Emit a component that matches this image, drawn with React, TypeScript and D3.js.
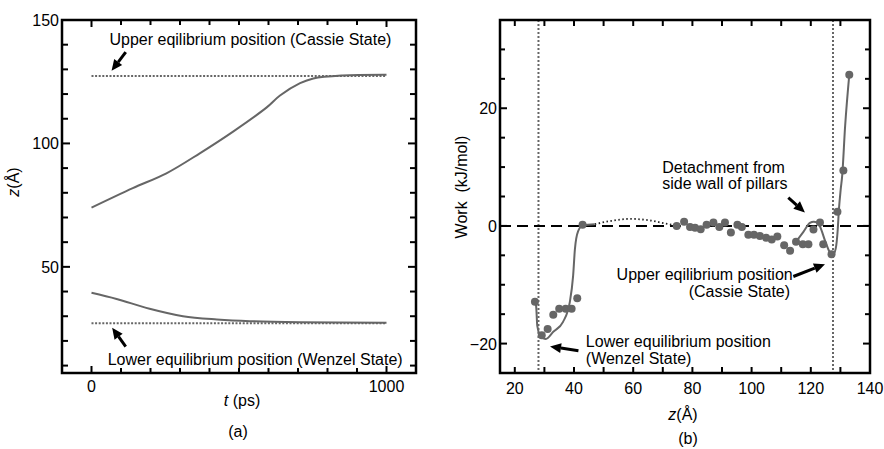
import * as d3 from 'd3';

// panel (a): z vs t
const upperT = [0, 140, 254, 367, 480, 594, 639, 707, 752, 850, 1000];
const upperZ = [74, 81.9, 87.9, 96, 104.8, 114.6, 119.4, 124.4, 126.3, 127.5, 127.8];
const lowerT = [0, 85, 197, 310, 425, 537, 707, 1000];
const lowerZ = [39.5, 37, 33, 30, 28.7, 28, 27.6, 27.4];
const eqUpperA = 127.3;
const eqLowerA = 27.2;
const tTicks = d3.range(0, 1001, 100);
const tLabels = [0, 1000];
const zTicksA = d3.range(10, 151, 10);
const zLabelsA = [50, 100, 150];

// panel (b): work vs z
const pointZ = [26.8, 29.1, 31.1, 33, 35, 37.2, 39.2, 41.1, 42.9,
  74.7, 77.2, 79.2, 80.9, 82.8, 84.8, 87.1, 89.1, 91, 93, 95.2, 96.7, 98.9, 100.8, 102.8,
  104.9, 106.8, 108.7, 111, 113, 115, 117.3, 119.2, 120.9, 123.1, 124.2, 127, 129, 131, 133];
const pointW = [-12.9, -18.6, -17.5, -15.1, -14.1, -14.1, -14.1, -12.3, 0.2,
  0, 0.7, -0.2, -0.3, -0.55, 0.2, 0.6, -0.2, 0.6, -1.1, 0.2, -0.2, -1.5, -1.5, -1.7,
  -2, -2.3, -1.8, -3.3, -4.2, -2.7, -3.1, -3.1, -0.6, 0.6, -3.1, -4.8, 2.4, 9.4, 25.7];
const fitLeftZ = [26.8, 27.2, 27.6, 28.5, 29.6, 30.5, 33, 36.3, 38.6, 39.7, 40.3, 41.4, 43, 47];
const fitLeftW = [-12.9, -13.6, -17, -18.6, -19.1, -19.2, -18, -16.3, -12.9, -8.5, -4, -0.9, 0.1, 0.3];
const gapZ = [47, 52, 59, 66, 71, 75];
const gapW = [0.3, 0.8, 1.2, 0.9, 0.4, 0.05];
const fitRightZ = [115, 117.5, 119.7, 121, 122, 123.1, 124.8, 126.5, 127.3, 128.4, 129.1, 129.5, 130.1, 130.6, 131.6, 133];
const fitRightW = [-2.7, -1, 0.5, 0.7, 0.6, -0.1, -2.5, -4.6, -5.1, -3.9, -0.6, 2.8, 6.2, 8.5, 17, 25.7];
const eqLowerB = 28;
const eqUpperB = 127.5;
const zTicksB = d3.range(20, 141, 10);
const zLabelsB = d3.range(20, 141, 20);
const wTicks = d3.range(-20, 31, 5);
const wLabels = [-20, 0, 20];

const FONT = "'Liberation Sans', Arial, Helvetica, sans-serif";
const GREY = '#666';

const Arrow = ({ x1, y1, x2, y2 }: { x1: number; y1: number; x2: number; y2: number }) => {
  const a = Math.atan2(y2 - y1, x2 - x1);
  const len = 11, hw = 5;
  const bx = x2 - len * Math.cos(a), by = y2 - len * Math.sin(a);
  const px = -Math.sin(a) * hw, py = Math.cos(a) * hw;
  return (
    <g>
      <line x1={x1} y1={y1} x2={bx} y2={by} stroke="#000" strokeWidth={3} />
      <polygon points={`${x2},${y2} ${bx + px},${by + py} ${bx - px},${by - py}`} fill="#000" />
    </g>
  );
};

const App = () => {
  // panel (a)
  const xA = d3.scaleLinear().domain([-100, 1100]).range([62, 416]);
  const yA = d3.scaleLinear().domain([7, 150]).range([373, 20]);
  const lineA = d3.line<[number, number]>()
    .x(d => xA(d[0]))
    .y(d => yA(d[1]))
    .curve(d3.curveCatmullRom.alpha(0.5));
  const upper = upperT.map((t, i) => [t, upperZ[i]] as [number, number]);
  const lower = lowerT.map((t, i) => [t, lowerZ[i]] as [number, number]);

  // panel (b)
  const xB = d3.scaleLinear().domain([15, 140]).range([500, 870]);
  const yB = d3.scaleLinear().domain([-25, 35]).range([373, 20]);
  const lineB = d3.line<[number, number]>()
    .x(d => xB(d[0]))
    .y(d => yB(d[1]))
    .curve(d3.curveMonotoneX);
  const fitLeft = fitLeftZ.map((z, i) => [z, fitLeftW[i]] as [number, number]);
  const gap = gapZ.map((z, i) => [z, gapW[i]] as [number, number]);
  const fitRight = fitRightZ.map((z, i) => [z, fitRightW[i]] as [number, number]);

  const [ax0, ax1] = xA.range();
  const [ayB, ayT] = yA.range();
  const [bx0, bx1] = xB.range();
  const [byB, byT] = yB.range();

  return (
    <svg width={884} height={449} style={{ position: 'absolute', left: 0, top: 0, background: '#fff' }}
      fontFamily={FONT} fontSize={16}>
      {/* ---------- (a) ---------- */}
      <line x1={xA(0)} x2={xA(1000)} y1={yA(eqUpperA)} y2={yA(eqUpperA)} stroke={GREY} strokeWidth={2} strokeDasharray="2,1.6" />
      <line x1={xA(0)} x2={xA(1000)} y1={yA(eqLowerA)} y2={yA(eqLowerA)} stroke={GREY} strokeWidth={2} strokeDasharray="2,1.6" />
      <path d={lineA(upper) ?? ''} fill="none" stroke={GREY} strokeWidth={2} />
      <path d={lineA(lower) ?? ''} fill="none" stroke={GREY} strokeWidth={2} />
      {tTicks.map(t => {
        const l = tLabels.includes(t) ? 7 : 5;
        return (
          <g key={'ta' + t}>
            <line x1={xA(t)} x2={xA(t)} y1={ayB} y2={ayB - l} stroke="#000" strokeWidth={2} />
            <line x1={xA(t)} x2={xA(t)} y1={ayT} y2={ayT + l} stroke="#000" strokeWidth={2} />
          </g>
        );
      })}
      {zTicksA.map(z => {
        const l = zLabelsA.includes(z) ? 8 : 6;
        return (
          <g key={'za' + z}>
            <line x1={ax0} x2={ax0 + l} y1={yA(z)} y2={yA(z)} stroke="#000" strokeWidth={2} />
            <line x1={ax1} x2={ax1 - l} y1={yA(z)} y2={yA(z)} stroke="#000" strokeWidth={2} />
          </g>
        );
      })}
      <rect x={ax0} y={ayT} width={ax1 - ax0} height={ayB - ayT} fill="none" stroke="#000" strokeWidth={2.5} />
      {tLabels.map(t => (
        <text key={'tl' + t} x={xA(t)} y={392} textAnchor="middle">{t}</text>
      ))}
      {zLabelsA.map(z => (
        <text key={'zl' + z} x={ax0 - 3} y={yA(z) + 6} textAnchor="end">{z}</text>
      ))}
      <text x={xA(61)} y={yA(140)}>Upper eqilibrium position (Cassie State)</text>
      <Arrow x1={xA(116)} y1={yA(137)} x2={xA(68)} y2={yA(129.4)} />
      <text x={xA(55)} y={yA(10.4)}>Lower equilibrium position (Wenzel State)</text>
      <Arrow x1={xA(116)} y1={yA(17.7)} x2={xA(70)} y2={yA(25.3)} />
      <text x={242} y={406} textAnchor="middle"><tspan fontStyle="italic">t</tspan> (ps)</text>
      <text x={238} y={437} textAnchor="middle">(a)</text>
      <text transform="translate(19,182) rotate(-90)" textAnchor="middle"><tspan fontStyle="italic">z</tspan>(Å)</text>

      {/* ---------- (b) ---------- */}
      <line x1={xB(eqLowerB)} x2={xB(eqLowerB)} y1={byT} y2={byB} stroke={GREY} strokeWidth={2} strokeDasharray="2,2" />
      <line x1={xB(eqUpperB)} x2={xB(eqUpperB)} y1={byT} y2={byB} stroke={GREY} strokeWidth={2} strokeDasharray="2,2" />
      <line x1={bx0} x2={bx1} y1={yB(0)} y2={yB(0)} stroke="#000" strokeWidth={2} strokeDasharray="11,6" />
      <path d={lineB(gap) ?? ''} fill="none" stroke="#222" strokeWidth={1.8} strokeDasharray="1.5,2.5" />
      <path d={lineB(fitLeft) ?? ''} fill="none" stroke={GREY} strokeWidth={2} />
      <path d={lineB(fitRight) ?? ''} fill="none" stroke={GREY} strokeWidth={2} />
      {pointZ.map((z, i) => (
        <circle key={'p' + i} cx={xB(z)} cy={yB(pointW[i])} r={4} fill={GREY} />
      ))}
      {zTicksB.map(z => (
        <g key={'tb' + z}>
          <line x1={xB(z)} x2={xB(z)} y1={byB} y2={byB - 6} stroke="#000" strokeWidth={2} />
          <line x1={xB(z)} x2={xB(z)} y1={byT} y2={byT + 6} stroke="#000" strokeWidth={2} />
        </g>
      ))}
      {wTicks.map(w => {
        const l = wLabels.includes(w) ? 7 : 5;
        return (
          <g key={'wb' + w}>
            <line x1={bx0} x2={bx0 + l} y1={yB(w)} y2={yB(w)} stroke="#000" strokeWidth={2} />
            <line x1={bx1} x2={bx1 - l} y1={yB(w)} y2={yB(w)} stroke="#000" strokeWidth={2} />
          </g>
        );
      })}
      <rect x={bx0} y={byT} width={bx1 - bx0} height={byB - byT} fill="none" stroke="#000" strokeWidth={2.5} />
      {zLabelsB.map(z => (
        <text key={'zb' + z} x={xB(z)} y={394} textAnchor="middle">{z}</text>
      ))}
      {wLabels.map(w => (
        <text key={'wl' + w} x={bx0 - 3} y={yB(w) + 6} textAnchor="end">{w < 0 ? '\u2212' + Math.abs(w) : w}</text>
      ))}
      <text x={xB(69.8)} y={yB(9.0)}>Detachment from</text>
      <text x={xB(69.8)} y={yB(6.2)}>side wall of pillars</text>
      <Arrow x1={xB(112.4)} y1={yB(4.8)} x2={xB(118)} y2={yB(2.3)} />
      <text x={xB(54.4)} y={yB(-9.2)}>Upper eqilibrium position</text>
      <text x={xB(113)} y={yB(-12.0)} textAnchor="end">(Cassie State)</text>
      <Arrow x1={xB(114.1)} y1={yB(-8.6)} x2={xB(124.8)} y2={yB(-6.5)} />
      <text x={xB(44)} y={yB(-20.6)}>Lower equilibrium position</text>
      <text x={xB(44)} y={yB(-23.4)}>(Wenzel State)</text>
      <Arrow x1={xB(41.5)} y1={yB(-21.2)} x2={xB(31.9)} y2={yB(-20.5)} />
      <text x={683} y={420} textAnchor="middle"><tspan fontStyle="italic">z</tspan>(Å)</text>
      <text x={688} y={444} textAnchor="middle">(b)</text>
      <text transform="translate(467,187) rotate(-90)" textAnchor="middle" style={{ whiteSpace: 'pre' }}>Work  (kJ/mol)</text>
    </svg>
  );
};

export default App;
